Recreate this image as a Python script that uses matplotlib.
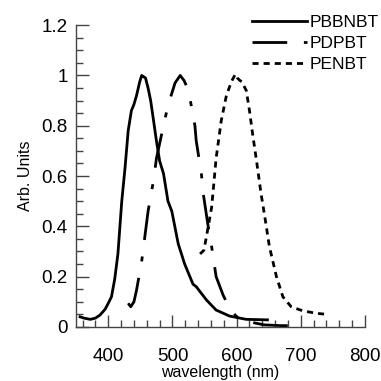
import numpy as np
import matplotlib.pyplot as plt
from matplotlib.ticker import MultipleLocator

plt.rcParams['font.family'] = ['Liberation Sans', 'DejaVu Sans']

# espectros
wl_pbbnbt = [356, 362, 372, 380, 387, 395, 400, 405, 410, 415, 421, 426, 431, 436, 440,
             444, 449, 452, 455, 458, 462, 466, 470, 475, 480, 486, 493, 499, 509, 519,
             532, 537, 553, 568, 589, 615, 648]
y_pbbnbt = [0.04, 0.035, 0.03, 0.035, 0.047, 0.07, 0.094, 0.12, 0.19, 0.29, 0.5, 0.63,
            0.78, 0.86, 0.885, 0.92, 0.975, 1.0, 0.995, 0.99, 0.95, 0.9, 0.83, 0.74, 0.66,
            0.61, 0.50, 0.46, 0.33, 0.25, 0.17, 0.16, 0.107, 0.067, 0.043, 0.03, 0.028]

wl_pdpbt = [431, 435, 440, 444, 452, 462, 471, 475, 486, 493, 504, 512, 518, 525, 535,
            537, 545, 548, 555, 561, 568, 579, 589, 602, 620, 643, 670, 695]
y_pdpbt = [0.094, 0.08, 0.1, 0.146, 0.26, 0.46, 0.59, 0.67, 0.80, 0.88, 0.97, 1.0, 0.98,
           0.94, 0.80, 0.74, 0.61, 0.53, 0.41, 0.32, 0.20, 0.126, 0.074, 0.034, 0.02,
           0.008, 0.005, 0.005]

wl_penbt = [543, 549, 553, 561, 563, 568, 576, 584, 592, 598, 601, 605, 608, 615, 620,
            625, 631, 638, 644, 651, 662, 672, 685, 703, 724, 740]
y_penbt = [0.29, 0.305, 0.36, 0.475, 0.53, 0.67, 0.82, 0.92, 0.976, 1.005, 0.99, 0.98,
           0.975, 0.94, 0.86, 0.765, 0.66, 0.53, 0.436, 0.32, 0.2, 0.12, 0.08, 0.064,
           0.054, 0.05]

fig = plt.figure(figsize=(3.81, 3.81), dpi=100)
ax = fig.add_axes([0.2, 0.142, 0.758, 0.792])

lw = 2.0
ax.plot(wl_pbbnbt, y_pbbnbt, color='black', lw=lw, label='PBBNBT')
ax.plot(wl_pdpbt, y_pdpbt, color='black', lw=lw, dashes=(12.5, 6, 1.8, 6), label='PDPBT')
ax.plot(wl_penbt, y_penbt, color='black', lw=lw, dashes=(2.2, 1.8), label='PENBT')

ax.set_xlim(350, 800)
ax.set_ylim(0, 1.2)
ax.xaxis.set_minor_locator(MultipleLocator(20))
ax.yaxis.set_minor_locator(MultipleLocator(0.05))
ax.set_xticks([400, 500, 600, 700, 800])
ax.set_yticks([0, 0.2, 0.4, 0.6, 0.8, 1, 1.2])
ax.set_yticklabels(['0', '0.2', '0.4', '0.6', '0.8', '1', '1.2'])

for s in ['top', 'right']:
    ax.spines[s].set_visible(False)
for s in ['left', 'bottom']:
    ax.spines[s].set_color('#444444')
    ax.spines[s].set_linewidth(1.0)

ax.tick_params(which='major', direction='in', length=9, width=1, color='#444444', labelsize=13.5)
ax.tick_params(which='minor', direction='in', length=5, width=1, color='#444444')
ax.tick_params(axis='x', which='major', pad=15)
ax.tick_params(axis='y', which='major', pad=6)

ax.set_xlabel('wavelength (nm)', fontsize=11.5, labelpad=0)
ax.set_ylabel('Arb. Units', fontsize=11.5, labelpad=6)

ax.legend(loc='upper left', bbox_to_anchor=(0.661, 0.962), bbox_transform=fig.transFigure,
          frameon=False, fontsize=12.5, handlelength=3.2, handletextpad=0.15,
          borderpad=0, borderaxespad=0, labelspacing=0.35)

fig.savefig('out.png', dpi=100)
